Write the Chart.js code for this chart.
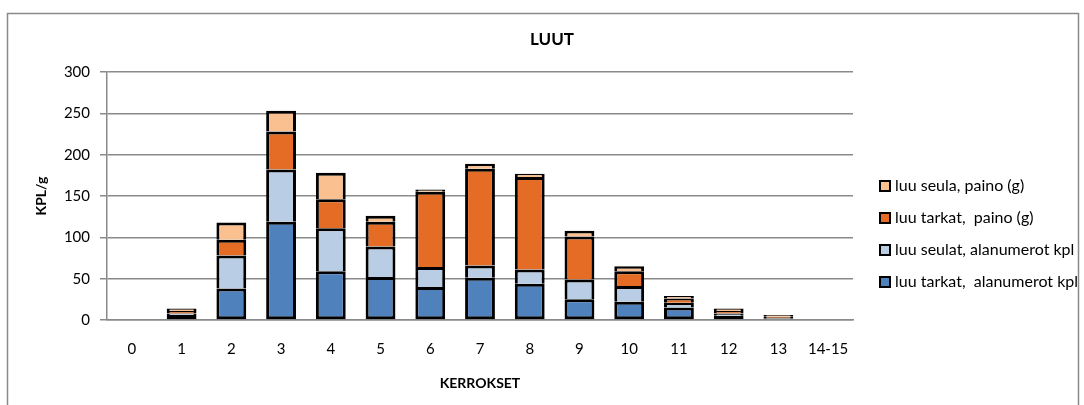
<!DOCTYPE html>
<html>
<head>
<meta charset="utf-8">
<script src="https://cdn.jsdelivr.net/npm/chart.js@4"></script>
<style>
  html, body { margin: 0; padding: 0; background: #fff; }
  #wrap { width: 1084px; height: 405px; position: relative; }
</style>
</head>
<body>
<div id="wrap"><canvas id="myChart" width="1084" height="405"></canvas></div>
<script>
// kerrokset ja arvot (luettu kuvasta)
const kerrokset = ['0', '1', '2', '3', '4', '5', '6', '7', '8', '9', '10', '11', '12', '13', '14-15'];
const tarkatKpl = [0, 6, 38, 119, 59, 52, 40, 51, 44, 25, 22, 15, 5, 1, 0];
const seulatKpl = [0, 2, 40, 63, 52, 37, 24, 15, 17, 24, 19, 6, 3, 1, 0];
const tarkatPaino = [0, 3, 19, 46, 35, 30, 91, 117, 112, 52, 18, 5, 3, 2, 0];
const seulaPaino = [0, 3, 21, 25, 32, 7, 3, 6, 4, 7, 6, 3, 3, 2, 0];
const yTicks = [0, 50, 100, 150, 200, 250, 300];

const FONT = 'Lato, "Open Sans", sans-serif';

// otsikot, oma selite oikealle + reunaviiva
const customLegend = {
    id: 'customLegend',
    afterDraw(chart) {
        const ctx = chart.ctx;
        const area = chart.chartArea;
        ctx.save();
        ctx.strokeStyle = '#8a8a8a';
        ctx.lineWidth = 1.5;
        ctx.strokeRect(7.5, 13.5, 1071, 400);

        ctx.fillStyle = '#000';
        ctx.textAlign = 'center';
        ctx.textBaseline = 'middle';
        ctx.font = 'bold 17px ' + FONT;
        ctx.fillText('LUUT', 552, 40);

        // y-akselin otsikko
        ctx.save();
        ctx.translate(41, (area.top + area.bottom) / 2);
        ctx.rotate(-Math.PI / 2);
        ctx.font = 'bold 14px ' + FONT;
        ctx.fillText('KPL/g', 0, 0);
        ctx.restore();

        const ds = chart.data.datasets.slice().reverse();
        ctx.textAlign = 'left';
        ctx.font = '16px ' + FONT;
        ds.forEach((d, i) => {
            const y = 186 + i * 32;
            ctx.fillStyle = d.backgroundColor;
            ctx.fillRect(880, y - 5, 10, 10);
            ctx.strokeStyle = '#000';
            ctx.lineWidth = 2;
            ctx.strokeRect(880, y - 5, 10, 10);
            ctx.fillStyle = '#000';
            ctx.fillText(d.label, 895, y);
        });
        ctx.restore();
    }
};

document.addEventListener('DOMContentLoaded', () => {
    const ctx = document.getElementById('myChart');
    const common = { borderColor: '#000', borderWidth: 3, barPercentage: 0.6, categoryPercentage: 1 };
    new Chart(ctx, {
        type: 'bar',
        data: {
            labels: kerrokset,
            datasets: [
                { label: 'luu tarkat,  alanumerot kpl', data: tarkatKpl, backgroundColor: '#4F81BD', borderSkipped: false, ...common },
                { label: 'luu seulat, alanumerot kpl', data: seulatKpl, backgroundColor: '#B9CDE5', borderSkipped: 'start', ...common },
                { label: 'luu tarkat,  paino (g)', data: tarkatPaino, backgroundColor: '#E46C24', borderSkipped: 'start', ...common },
                { label: 'luu seula, paino (g)', data: seulaPaino, backgroundColor: '#FAC090', borderSkipped: 'start', ...common }
            ]
        },
        options: {
            responsive: false,
            animation: false,
            layout: { padding: { left: 0, right: 231, top: 72, bottom: 0 } },
            plugins: {
                legend: { display: false },
                tooltip: { enabled: false },
                title: { display: false }
            },
            scales: {
                x: {
                    stacked: true,
                    grid: { display: false },
                    border: { display: true, color: '#8a8a8a', width: 1.5 },
                    ticks: { color: '#000', font: { family: FONT, size: 15 }, padding: 12, maxRotation: 0 },
                    title: {
                        display: true,
                        text: 'KERROKSET',
                        color: '#000',
                        font: { family: FONT, size: 14, weight: 'bold' },
                        padding: { top: 0, bottom: 13 }
                    },
                    afterFit: s => { s.height = 85; }
                },
                y: {
                    stacked: true,
                    min: 0,
                    max: 300,
                    afterBuildTicks: s => { s.ticks = yTicks.map(v => ({ value: v })); },
                    grid: { color: '#8a8a8a', lineWidth: 1.5, tickLength: 7 },
                    border: { display: true, color: '#8a8a8a', width: 1.5 },
                    ticks: { color: '#000', font: { family: FONT, size: 15 }, padding: 10 },
                    afterFit: s => { s.width = 107; }
                }
            }
        },
        plugins: [customLegend]
    });
});
</script>
</body>
</html>
